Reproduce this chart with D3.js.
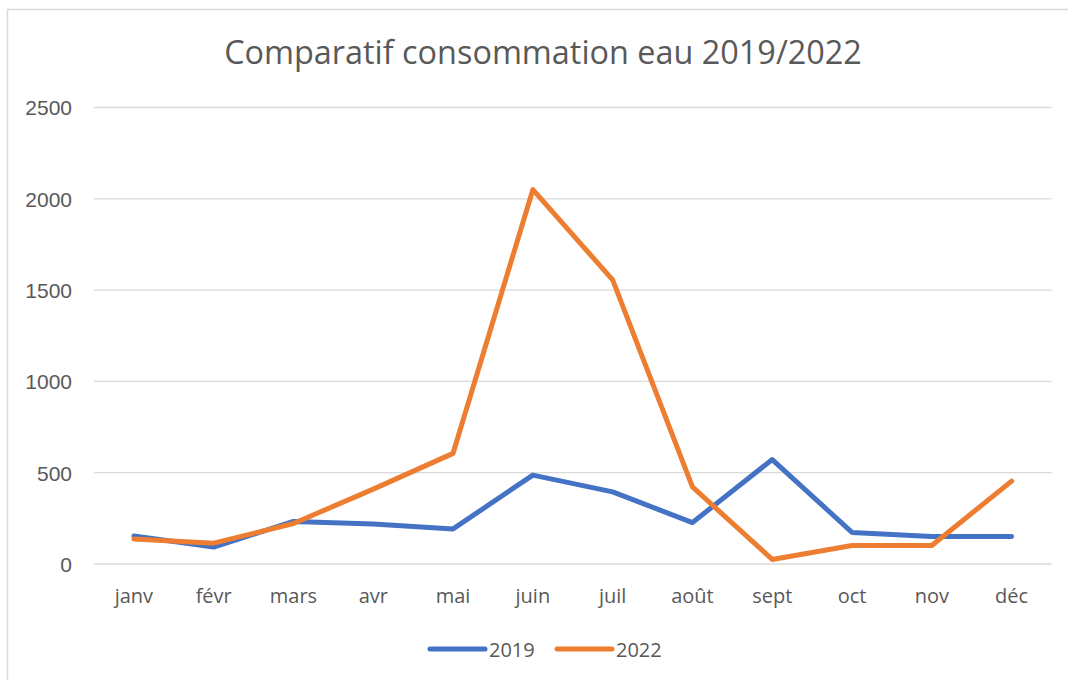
<!DOCTYPE html>
<html>
<head>
<meta charset="utf-8">
<script src="https://cdn.jsdelivr.net/npm/d3@7"></script>
<style>
  body { margin: 0; background: #fff; }
  svg text { font-family: "Open Sans", "Liberation Sans", sans-serif; fill: #595959; }
</style>
</head>
<body>
<svg id="chart" width="1068" height="680"></svg>
<script>
var months = ['janv', 'févr', 'mars', 'avr', 'mai', 'juin', 'juil', 'août', 'sept', 'oct', 'nov', 'déc'];
var conso2019 = [153, 93, 233, 219, 192, 487, 395, 227, 572, 173, 150, 151];
var conso2022 = [137, 114, 222, 410, 606, 2050, 1556, 422, 25, 101, 101, 454];
var yTicks = [0, 500, 1000, 1500, 2000, 2500];
var seriesNames = ['2019', '2022'];
var colors = ['#4472C4', '#ED7D31'];

var svg = d3.select('#chart');

// cadre du graphique
svg.append('rect')
    .attr('x', 7.5).attr('y', 9.5)
    .attr('width', 1080).attr('height', 700)
    .attr('fill', '#fff')
    .attr('stroke', '#d9d9d9').attr('stroke-width', 1.5);

var x = d3.scaleBand().domain(months).range([94, 1051.5]);
var y = d3.scaleLinear().domain([0, 2500]).range([564, 107.5]);

// grille horizontale
svg.append('g').selectAll('line').data(yTicks)
    .enter().append('line')
    .attr('x1', 94).attr('x2', 1051.5)
    .attr('y1', function(d) { return y(d); })
    .attr('y2', function(d) { return y(d); })
    .attr('stroke', '#d9d9d9').attr('stroke-width', 1.3);

var yAxis = d3.axisLeft(y).tickValues(yTicks).tickSize(0).tickPadding(22)
    .tickFormat(d3.format('d'));
var gy = svg.append('g').attr('transform', 'translate(94,0)').call(yAxis);
gy.select('.domain').remove();
gy.selectAll('text').attr('font-size', 21).attr('dy', '0.35em')
    .style('font-family', '"Liberation Sans", sans-serif');

var xAxis = d3.axisBottom(x).tickSize(0).tickPadding(0);
var gx = svg.append('g').attr('transform', 'translate(0,564)').call(xAxis);
gx.select('.domain').remove();
gx.selectAll('text').attr('font-size', 20).attr('dy', 0).attr('y', 39);

// series
var line = d3.line()
    .x(function(d, i) { return x(months[i]) + x.bandwidth() / 2; })
    .y(function(d) { return y(d); });

[conso2019, conso2022].forEach(function(serie, i) {
    svg.append('path')
        .attr('d', line(serie))
        .attr('fill', 'none')
        .attr('stroke', colors[i])
        .attr('stroke-width', 5)
        .attr('stroke-linecap', 'round')
        .attr('stroke-linejoin', 'round');
});

// titre
svg.append('text')
    .attr('x', 543).attr('y', 64)
    .attr('text-anchor', 'middle')
    .attr('font-size', 32.4)
    .text('Comparatif consommation eau 2019/2022');

// legende
var legend = svg.append('g');
var legendX = [430, 557];
seriesNames.forEach(function(name, i) {
    legend.append('line')
        .attr('x1', legendX[i]).attr('x2', legendX[i] + 55)
        .attr('y1', 649).attr('y2', 649)
        .attr('stroke', colors[i]).attr('stroke-width', 5)
        .attr('stroke-linecap', 'round');
    legend.append('text')
        .attr('x', legendX[i] + 59).attr('y', 657)
        .attr('font-size', 20)
        .text(name);
});
</script>
</body>
</html>
